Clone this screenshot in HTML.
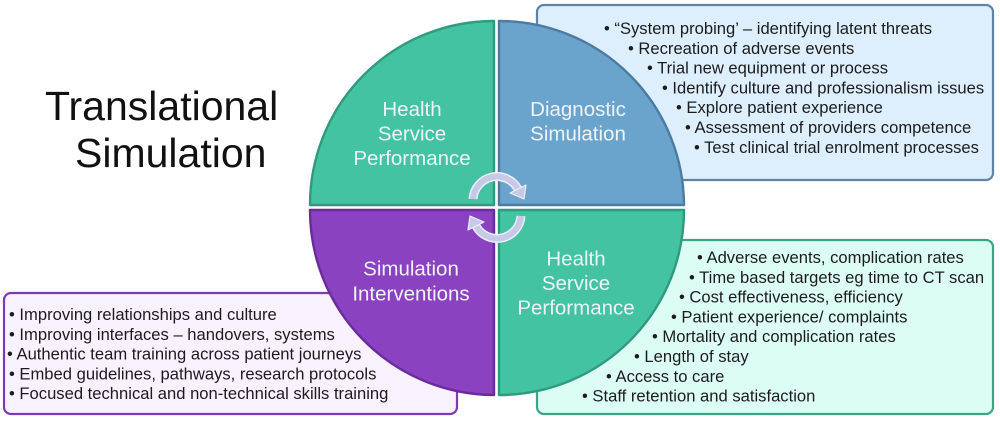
<!DOCTYPE html>
<html><head><meta charset="utf-8"><style>
html,body{margin:0;padding:0;background:#fff;}
svg{display:block;}
text{font-family:"Liberation Sans",Arial,sans-serif;}
</style></head><body>
<svg width="1000" height="423" viewBox="0 0 1000 423" xmlns="http://www.w3.org/2000/svg">
<rect width="1000" height="423" fill="#fff"/>
<!-- boxes -->
<rect x="537" y="5" width="456" height="175" rx="7" fill="#ddeefd" stroke="#5d84a6" stroke-width="2.2"/>
<rect x="537" y="240" width="456" height="174" rx="7" fill="#dcfdf4" stroke="#38a589" stroke-width="2.2"/>
<rect x="4" y="293" width="453" height="121" rx="7" fill="#f8f1fe" stroke="#7b3bb3" stroke-width="2.2"/>

<!-- quadrants -->
<path d="M494 205 L310 205 A184 184 0 0 1 494 21 Z" fill="#43c3a2" stroke="#2f9b7e" stroke-width="2.4" stroke-linejoin="round"/>
<path d="M499 205 L499 21 A185 185 0 0 1 684 205 Z" fill="#6aa4cd" stroke="#4b7ba3" stroke-width="2.4" stroke-linejoin="round"/>
<path d="M494 210 L494 395 A185 185 0 0 1 310 210 Z" fill="#8a42c0" stroke="#6a2b9e" stroke-width="2.4" stroke-linejoin="round"/>
<path d="M499 210 L684 210 A185 185 0 0 1 499 395 Z" fill="#43c3a2" stroke="#2f9b7e" stroke-width="2.4" stroke-linejoin="round"/>

<!-- circular arrows -->
<g fill="none" stroke-linecap="butt">
<path d="M473 199 A24 24 0 0 1 518 189" stroke="#eeeef8" stroke-width="9"/>
<path d="M473 199 A24 24 0 0 1 518 189" stroke="#c6c9e7" stroke-width="6"/>
<path d="M521 216 A24 24 0 0 1 476 226" stroke="#eeeef8" stroke-width="9"/>
<path d="M521 216 A24 24 0 0 1 476 226" stroke="#c6c9e7" stroke-width="6"/>
</g>
<polygon points="526,185 510,193 524,199" fill="#c6c9e7" stroke="#eeeef8" stroke-width="1.2" stroke-linejoin="round"/>
<polygon points="468,230 484,222 470,216" fill="#c6c9e7" stroke="#eeeef8" stroke-width="1.2" stroke-linejoin="round"/>

<!-- title -->
<text x="45" y="120" font-size="41" fill="#111">Translational</text>
<text x="75" y="167" font-size="41" fill="#111">Simulation</text>

<!-- quadrant labels -->
<g font-size="20.5" fill="#eef3f6" text-anchor="middle">
<text x="412" y="116">Health</text>
<text x="412" y="140.5">Service</text>
<text x="412" y="165">Performance</text>
<text x="578" y="116">Diagnostic</text>
<text x="578" y="140.5">Simulation</text>
<text x="411" y="275.5">Simulation</text>
<text x="411" y="300.5">Interventions</text>
<text x="576" y="265.5">Health</text>
<text x="576" y="290">Service</text>
<text x="576" y="314.5">Performance</text>
</g>

<!-- TR bullets -->
<g font-size="16.6" fill="#1c1c1c">
<text x="604" y="34">• “System probing’ – identifying latent threats</text>
<text x="628" y="53.8">• Recreation of adverse events</text>
<text x="647" y="73.6">• Trial new equipment or process</text>
<text x="662" y="93.4">• Identify culture and professionalism issues</text>
<text x="676" y="113.2">• Explore patient experience</text>
<text x="685" y="133">• Assessment of providers competence</text>
<text x="694" y="152.8">• Test clinical trial enrolment processes</text>
</g>

<!-- BR bullets -->
<g font-size="16.6" fill="#1c1c1c">
<text x="697" y="263">• Adverse events, complication rates</text>
<text x="689" y="282.8">• Time based targets eg time to CT scan</text>
<text x="679" y="302.6">• Cost effectiveness, efficiency</text>
<text x="671" y="322.4">• Patient experience/ complaints</text>
<text x="652" y="342.2">• Mortality and complication rates</text>
<text x="634" y="362">• Length of stay</text>
<text x="606" y="381.8">• Access to care</text>
<text x="582" y="401.6">• Staff retention and satisfaction</text>
</g>

<!-- BL bullets -->
<g font-size="16.6" fill="#1c1c1c">
<text x="9" y="320">•  Improving relationships and culture</text>
<text x="9" y="339.8">•  Improving interfaces – handovers, systems</text>
<text x="7" y="359.6">• Authentic team training across patient journeys</text>
<text x="9" y="379.4">•  Embed guidelines, pathways, research protocols</text>
<text x="9" y="399.2">•  Focused technical and non-technical skills training</text>
</g>
</svg>
</body></html>
